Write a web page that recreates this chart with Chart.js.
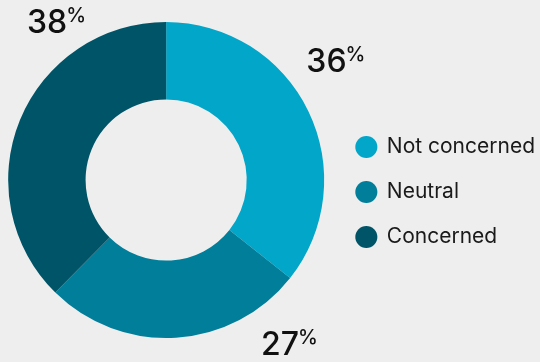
<!DOCTYPE html>
<html>
<head>
<meta charset="utf-8">
<script src="https://cdn.jsdelivr.net/npm/chart.js@4/dist/chart.umd.min.js"></script>
<style>
  html, body { margin: 0; padding: 0; background: #eeeeee; }
  #wrap { width: 540px; height: 362px; position: relative; }
</style>
</head>
<body>
<div id="wrap"><canvas id="concernChart"></canvas></div>
<script>
// --- Data ---
const categories = ['Not concerned', 'Neutral', 'Concerned'];
const shares = [36, 27, 38];
const sliceColors = ['#01a6c9', '#007e9a', '#005467'];

const FONT = 'Inter, "Noto Sans", sans-serif';

// percentage labels placed next to each slice, offset from the slice's outer midpoint
const labelOffsets = [[-2, -39], [85, 17], [7, -87]];

const pctLabels = {
    id: 'pctLabels',
    afterDatasetsDraw(chart) {
        const ctx = chart.ctx;
        const meta = chart.getDatasetMeta(0);
        ctx.save();
        ctx.fillStyle = '#111111';
        ctx.textBaseline = 'alphabetic';
        ctx.textAlign = 'left';
        meta.data.forEach((arc, i) => {
            const p = arc.getProps(['x', 'y', 'startAngle', 'endAngle', 'outerRadius'], true);
            const mid = (p.startAngle + p.endAngle) / 2;
            const x = p.x + Math.cos(mid) * p.outerRadius + labelOffsets[i][0];
            const y = p.y + Math.sin(mid) * p.outerRadius + labelOffsets[i][1];
            const num = String(shares[i]);
            ctx.font = '500 32px ' + FONT;
            ctx.fillText(num, x, y);
            const w = ctx.measureText(num).width;
            ctx.font = '500 20px ' + FONT;
            ctx.fillText('%', x + w - 1, y - 11);
        });
        ctx.restore();
    }
};

new Chart(document.getElementById('concernChart'), {
    type: 'doughnut',
    data: {
        labels: categories,
        datasets: [{
            data: shares,
            backgroundColor: sliceColors,
            borderWidth: 0,
            hoverOffset: 0
        }]
    },
    options: {
        responsive: true,
        maintainAspectRatio: false,
        animation: false,
        cutout: '51%',
        layout: { padding: { left: 0, top: 22, bottom: 24, right: -5 } },
        events: [],
        plugins: {
            tooltip: { enabled: false },
            legend: {
                position: 'right',
                align: 'center',
                // empty title only pushes the legend rows down a little
                title: { display: true, text: ' ', font: { size: 10 }, padding: 6 },
                labels: {
                    usePointStyle: true,
                    pointStyle: 'circle',
                    boxWidth: 20,
                    boxHeight: 15.6,
                    padding: 24,
                    color: '#1a1a1a',
                    font: { family: FONT, size: 21 }
                }
            }
        }
    },
    plugins: [pctLabels]
});
</script>
</body>
</html>
